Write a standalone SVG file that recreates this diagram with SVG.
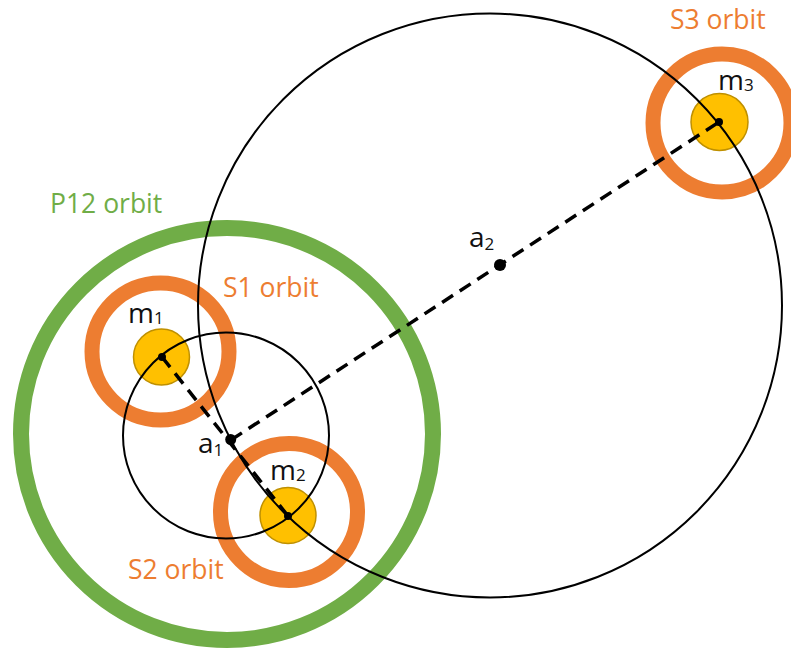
<svg xmlns="http://www.w3.org/2000/svg" width="791" height="652" viewBox="0 0 791 652">
<style>
.ring-o{fill:none;stroke:#ED7D31;stroke-width:15}
.ring-g{fill:none;stroke:#70AD47;stroke-width:16}
.body{fill:#FFC000;stroke:#BF9000;stroke-width:1.5}
.orbit{fill:none;stroke:#000;stroke-width:2}
.dash{fill:none;stroke:#000;stroke-width:3.5;stroke-dasharray:13 8}
.dot{fill:#000}
.lbl{font-family:"Open Sans","Liberation Sans",sans-serif;font-size:26.5px}
.sym{font-size:28px}
.lo{fill:#ED7D31}
.lg{fill:#70AD47}
.lk{fill:#111}
.sub{font-size:17px}
</style>
<rect width="791" height="652" fill="#fff"/>
<g id="p12-orbit">
<circle class="ring-g" cx="227" cy="434" r="206"/>
<text class="lbl lg" x="50" y="212.5">P12 orbit</text>
</g>
<g id="s1-orbit">
<circle class="ring-o" cx="160.5" cy="351.5" r="68.5"/>
<text class="lbl lo" x="223" y="297">S1 orbit</text>
</g>
<g id="s2-orbit">
<circle class="ring-o" cx="289" cy="512" r="68.5"/>
<text class="lbl lo" x="128" y="579">S2 orbit</text>
</g>
<g id="s3-orbit">
<circle class="ring-o" cx="722" cy="123" r="69"/>
<text class="lbl lo" x="670" y="29">S3 orbit</text>
</g>
<g id="m1">
<circle class="body" cx="161.5" cy="357" r="28"/>
<text class="lbl sym lk" x="128" y="323">m<tspan class="sub" dy="1">1</tspan></text>
</g>
<g id="m2">
<circle class="body" cx="288" cy="515.5" r="28"/>
<text class="lbl sym lk" x="270" y="480">m<tspan class="sub" dy="1">2</tspan></text>
</g>
<g id="m3">
<circle class="body" cx="719.5" cy="122" r="28.5"/>
<text class="lbl sym lk" x="718" y="90">m<tspan class="sub" dy="1">3</tspan></text>
</g>
<g id="connectors">
<circle class="orbit" cx="490" cy="305.5" r="292"/>
<circle class="orbit" cx="226" cy="435.5" r="103"/>
<line class="dash" x1="162" y1="357" x2="288" y2="516"/>
<line class="dash" x1="231" y1="440" x2="719" y2="122"/>
</g>
<g id="a1">
<circle class="dot" cx="230.7" cy="439.5" r="5.5"/>
<text class="lbl sym lk" x="198" y="453">a<tspan class="sub" dy="3">1</tspan></text>
</g>
<g id="a2">
<circle class="dot" cx="500" cy="265" r="6"/>
<text class="lbl sym lk" x="469" y="247">a<tspan class="sub" dy="3">2</tspan></text>
</g>
<g id="dots">
<circle class="dot" cx="162" cy="357" r="4"/>
<circle class="dot" cx="288" cy="516" r="4"/>
<circle class="dot" cx="719" cy="122" r="4"/>
</g>
</svg>
